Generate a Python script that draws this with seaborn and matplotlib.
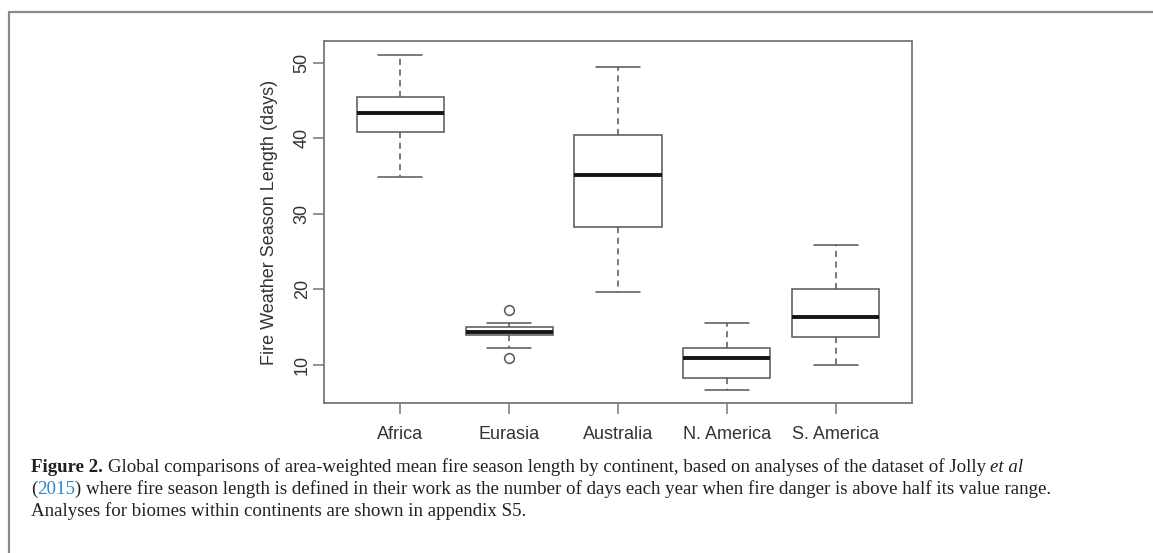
import matplotlib
matplotlib.use("Agg")
import matplotlib.pyplot as plt
from matplotlib.lines import Line2D
import numpy as np
import pandas as pd
import seaborn as sns

# Fire weather season length (days), five-number summary per continent
continents = ["Africa", "Eurasia", "Australia", "N. America", "S. America"]
whisker_low = [34.9, 12.3, 19.6, 6.7, 10.0]
q1 = [40.8, 13.9, 28.2, 8.2, 13.7]
median = [43.3, 14.4, 35.2, 10.9, 16.4]
q3 = [45.5, 15.0, 40.4, 12.3, 20.1]
whisker_high = [51.1, 15.6, 49.5, 15.5, 25.9]
outliers_low = [[], [10.9], [], [], []]
outliers_high = [[], [17.3], [], [], []]

y_ticks = [10, 20, 30, 40, 50]
y_label = "Fire Weather Season Length (days)"


def summary_points(lo, a, m, b, hi, lows, highs):
    """Ordered values whose quartiles and whisker ends equal the given summary."""
    pad = len(lows)
    return (list(lows) + [lo] + [a] * (1 + pad) + [m] + [b] * (1 + pad)
            + [hi] + list(highs))


rows = []
for i, name in enumerate(continents):
    vals = summary_points(whisker_low[i], q1[i], median[i], q3[i],
                          whisker_high[i], outliers_low[i], outliers_high[i])
    rows += [(name, v) for v in vals]
df = pd.DataFrame(rows, columns=["continent", "days"])

sns.set_style("white")
plt.rcParams["font.family"] = ["Liberation Sans", "DejaVu Sans"]

W, H = 1153, 553
fig = plt.figure(figsize=(W / 100, H / 100), dpi=100)
ax = fig.add_axes([324 / W, 1 - 403 / H, (912 - 324) / W, (403 - 41) / H])

line_col = "#555555"
sns.boxplot(
    data=df, x="continent", y="days", order=continents, ax=ax,
    width=0.8, whis=1.5, color="white", linecolor=line_col, linewidth=1.1,
    medianprops=dict(color="#151515", linewidth=2.8),
    whiskerprops=dict(linestyle=(0, (4, 3)), color=line_col, linewidth=1.1),
    capprops=dict(color=line_col, linewidth=1.1),
    flierprops=dict(marker="o", markerfacecolor="none",
                    markeredgecolor=line_col, markersize=7,
                    markeredgewidth=1.1),
)

ax.set_xlim(-0.7, 4.7)
ax.set_ylim(4.95, 52.9)
ax.set_yticks(y_ticks)
ax.set_yticklabels([str(t) for t in y_ticks], rotation=90, va="center")
ax.set_xlabel("")
ax.set_ylabel(y_label, fontsize=13, color="#333333", labelpad=11.5)
ax.tick_params(axis="both", direction="out", length=8, width=1.1,
               color="#777777", labelsize=13, labelcolor="#333333",
               bottom=True, left=True)
ax.tick_params(axis="x", pad=8.5)
ax.tick_params(axis="y", pad=1.5)
for s in ax.spines.values():
    s.set_visible(True)
    s.set_color("#777777")
    s.set_linewidth(1.3)

# page frame (top and left rules)
frame_col = "#8a8a8a"
x0, y0 = 8.5 / W, 1 - 12 / H
fig.add_artist(Line2D([x0, 1], [y0, y0], transform=fig.transFigure,
                      color=frame_col, linewidth=1.6))
fig.add_artist(Line2D([x0, x0], [0, y0], transform=fig.transFigure,
                      color=frame_col, linewidth=1.6))

# caption, written as styled runs
serif = ["Liberation Serif", "DejaVu Serif"]
cap_size = 13.6
cap_col = "#231f20"
renderer = fig.canvas.get_renderer()


def text_width(s, **kw):
    t = fig.text(0, 0, s, fontfamily=serif, fontsize=cap_size, **kw)
    w = t.get_window_extent(renderer).width
    t.remove()
    return w


space_w = text_width("a a") - text_width("aa")


def draw_runs(x_px, base_px, runs):
    x = x_px
    for txt, kw in runs:
        lead = len(txt) - len(txt.lstrip(" "))
        trail = len(txt) - len(txt.rstrip(" "))
        x += lead * space_w
        core = txt.strip(" ")
        style = dict(color=cap_col)
        style.update(kw)
        t = fig.text(x / W, 1 - base_px / H, core, fontfamily=serif,
                     fontsize=cap_size, va="baseline", ha="left", **style)
        x += t.get_window_extent(renderer).width + trail * space_w


draw_runs(31, 471.5, [
    ("Figure 2.", dict(fontweight="bold")),
    (" Global comparisons of area-weighted mean fire season length by "
     "continent, based on analyses of the dataset of Jolly ", {}),
    ("et al", dict(fontstyle="italic")),
])
draw_runs(31, 493.5, [
    ("(", {}),
    ("2015", dict(color="#2a8bc4")),
    (") where fire season length is defined in their work as the number of "
     "days each year when fire danger is above half its value range.", {}),
])
draw_runs(31, 515.5, [
    ("Analyses for biomes within continents are shown in appendix S5.", {}),
])

fig.savefig("out.png", dpi=100, facecolor="white")
